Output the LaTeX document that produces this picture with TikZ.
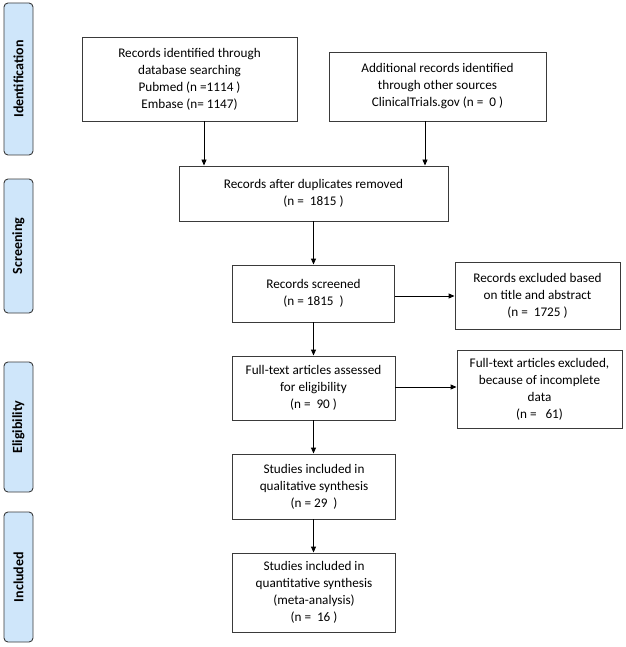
\documentclass[tikz,border=0pt]{standalone}
\usepackage{fontspec}
\setmainfont{Carlito}
\usetikzlibrary{arrows.meta}
\definecolor{lblfill}{HTML}{CFE6FA}
\definecolor{boxline}{HTML}{3A3A3A}
\begin{document}
\begin{tikzpicture}[x=1pt,y=-1pt,
  box/.style={draw=boxline,line width=0.9pt,fill=white,align=center,inner sep=2pt,
    font=\fontsize{13.2}{17}\selectfont,anchor=center},
  lbl/.style={draw=boxline,line width=0.9pt,fill=lblfill,rounded corners=4pt,
    minimum width=29pt,rotate=90,font=\bfseries\fontsize{14}{16}\selectfont,anchor=center},
  arr/.style={draw=black,line width=0.9pt,-{Triangle[length=6pt,width=5pt]}}]
\useasboundingbox (0,0) rectangle (625,647);
% stage labels
\node[lbl,minimum width=152pt,minimum height=29pt] (l1) at (18.5,79) {Identification};
\node[lbl,minimum width=134pt,minimum height=29pt] (l2) at (18.5,246) {Screening};
\node[lbl,minimum width=130pt,minimum height=29pt] (l3) at (18.5,427) {Eligibility};
\node[lbl,minimum width=130pt,minimum height=29pt] (l4) at (18.5,577) {Included};
% boxes
\node[box,minimum width=215pt,minimum height=84pt] (A) at (189.5,79)
  {Records identified through\\database searching\\Pubmed (n =1114 )\\Embase (n= 1147)};
\node[box,minimum width=217pt,minimum height=69pt] (B) at (437.5,86.5)
  {Additional records identified\\through other sources\\ClinicalTrials.gov (n =\ \ 0 )};
\node[box,minimum width=269pt,minimum height=55pt] (C) at (313.5,193.5)
  {Records after duplicates removed\\(n =\ \ 1815 )};
\node[box,minimum width=162pt,minimum height=57pt] (D) at (313.5,293.5)
  {Records screened\\(n = 1815\ \ )};
\node[box,minimum width=165pt,minimum height=67pt] (E) at (537.5,295.5)
  {Records excluded based\\on title and abstract\\(n =\ \ 1725 )};
\node[box,minimum width=163pt,minimum height=64pt] (F) at (313.5,388)
  {Full-text articles assessed\\for eligibility\\(n =\ \ 90 )};
\node[box,minimum width=165pt,minimum height=78pt] (G) at (539.5,389)
  {Full-text articles excluded,\\because of incomplete\\data\\(n =\ \ \ 61)};
\node[box,minimum width=163pt,minimum height=65pt] (H) at (314,486.5)
  {Studies included in\\qualitative synthesis\\(n = 29\ \ )};
\node[box,minimum width=163pt,minimum height=79pt] (I) at (314,592.5)
  {Studies included in\\quantitative synthesis\\(meta-analysis)\\(n =\ \ 16 )};
% connectors
\coordinate (xa) at (204,0);
\coordinate (xb) at (425,0);
\coordinate (xc) at (313.5,0);
\coordinate (yd) at (0,296);
\coordinate (yf) at (0,387);
\draw[arr] (A.south -| xa) -- (C.north -| xa);
\draw[arr] (B.south -| xb) -- (C.north -| xb);
\draw[arr] (C.south -| xc) -- (D.north -| xc);
\draw[arr] (D.east |- yd) -- (E.west |- yd);
\draw[arr] (D.south -| xc) -- (F.north -| xc);
\draw[arr] (F.east |- yf) -- (G.west |- yf);
\draw[arr] (F.south -| xc) -- (H.north -| xc);
\draw[arr] (H.south -| xc) -- (I.north -| xc);
\end{tikzpicture}
\end{document}
